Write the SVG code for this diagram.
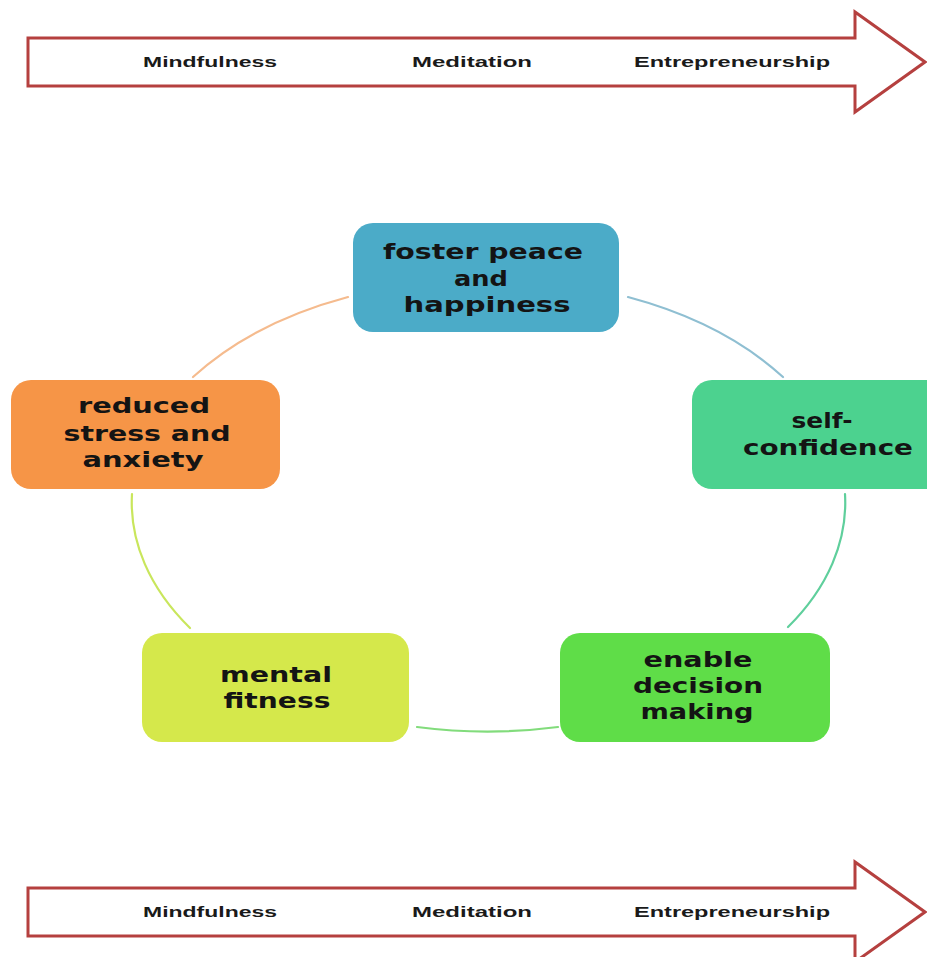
<svg xmlns="http://www.w3.org/2000/svg" width="927" height="957" viewBox="0 0 927 957">
  <style>
    .band { fill: #ffffff; stroke: #b5403f; stroke-width: 3; stroke-linejoin: miter; }
    .band-label { font-family: "Liberation Sans", Arial, sans-serif; font-weight: bold; font-size: 15px; fill: #1a1a1a; text-anchor: middle; }
    .node-label { font-family: "DejaVu Sans", Verdana, sans-serif; font-weight: bold; font-size: 22px; fill: #141414; text-anchor: middle; }
    .link { fill: none; stroke-width: 2.2; stroke-linecap: round; }
  </style>

  <rect width="927" height="957" fill="#ffffff"/>

  <!-- top progression arrow -->
  <g id="arrow-top">
    <polygon class="band" points="28,38 855,38 855,12 925,62 855,112 855,86 28,86"/>
    <text class="band-label" x="210" y="67" textLength="134" lengthAdjust="spacingAndGlyphs">Mindfulness</text>
    <text class="band-label" x="472" y="67" textLength="120" lengthAdjust="spacingAndGlyphs">Meditation</text>
    <text class="band-label" x="732" y="67" textLength="196" lengthAdjust="spacingAndGlyphs">Entrepreneurship</text>
  </g>

  <!-- cycle connectors -->
  <g id="connectors">
    <path class="link" stroke="#f5bb8e" d="M193,377 A357,229 0 0 1 348,297"/>
    <path class="link" stroke="#8fbfd2" d="M628,297 A357,229 0 0 1 783,377"/>
    <path class="link" stroke="#5fcf9c" d="M845,494 A357,229 0 0 1 788,627"/>
    <path class="link" stroke="#82dc7c" d="M558,727 A357,229 0 0 1 417,727"/>
    <path class="link" stroke="#c9e65c" d="M190,628 A357,229 0 0 1 132,494"/>
  </g>

  <g id="node-peace">
    <rect x="353" y="223" width="266" height="109" rx="20" fill="#4babc8"/>
    <text class="node-label" x="483" y="259" textLength="200" lengthAdjust="spacingAndGlyphs">foster peace</text>
    <text class="node-label" x="481" y="286" textLength="54" lengthAdjust="spacingAndGlyphs">and</text>
    <text class="node-label" x="487" y="312" textLength="167" lengthAdjust="spacingAndGlyphs">happiness</text>
  </g>

  <g id="node-confidence">
    <rect x="692" y="380" width="269" height="109" rx="20" fill="#4cd28f"/>
    <text class="node-label" x="822" y="428" textLength="61" lengthAdjust="spacingAndGlyphs">self-</text>
    <text class="node-label" x="828" y="455" textLength="170" lengthAdjust="spacingAndGlyphs">confidence</text>
  </g>

  <g id="node-decision">
    <rect x="560" y="633" width="270" height="109" rx="20" fill="#5fdd48"/>
    <text class="node-label" x="698" y="667" textLength="109" lengthAdjust="spacingAndGlyphs">enable</text>
    <text class="node-label" x="698" y="693" textLength="130" lengthAdjust="spacingAndGlyphs">decision</text>
    <text class="node-label" x="697" y="719" textLength="113" lengthAdjust="spacingAndGlyphs">making</text>
  </g>

  <g id="node-fitness">
    <rect x="142" y="633" width="267" height="109" rx="20" fill="#d5e84b"/>
    <text class="node-label" x="276" y="682" textLength="112" lengthAdjust="spacingAndGlyphs">mental</text>
    <text class="node-label" x="277" y="708" textLength="107" lengthAdjust="spacingAndGlyphs">fitness</text>
  </g>

  <g id="node-stress">
    <rect x="11" y="380" width="269" height="109" rx="20" fill="#f69547"/>
    <text class="node-label" x="144" y="413" textLength="132" lengthAdjust="spacingAndGlyphs">reduced</text>
    <text class="node-label" x="147" y="441" textLength="167" lengthAdjust="spacingAndGlyphs">stress and</text>
    <text class="node-label" x="143" y="467" textLength="121" lengthAdjust="spacingAndGlyphs">anxiety</text>
  </g>

  <!-- bottom progression arrow -->
  <g id="arrow-bottom">
    <polygon class="band" points="28,888 855,888 855,862 925,912 855,962 855,936 28,936"/>
    <text class="band-label" x="210" y="917" textLength="134" lengthAdjust="spacingAndGlyphs">Mindfulness</text>
    <text class="band-label" x="472" y="917" textLength="120" lengthAdjust="spacingAndGlyphs">Meditation</text>
    <text class="band-label" x="732" y="917" textLength="196" lengthAdjust="spacingAndGlyphs">Entrepreneurship</text>
  </g>
</svg>
